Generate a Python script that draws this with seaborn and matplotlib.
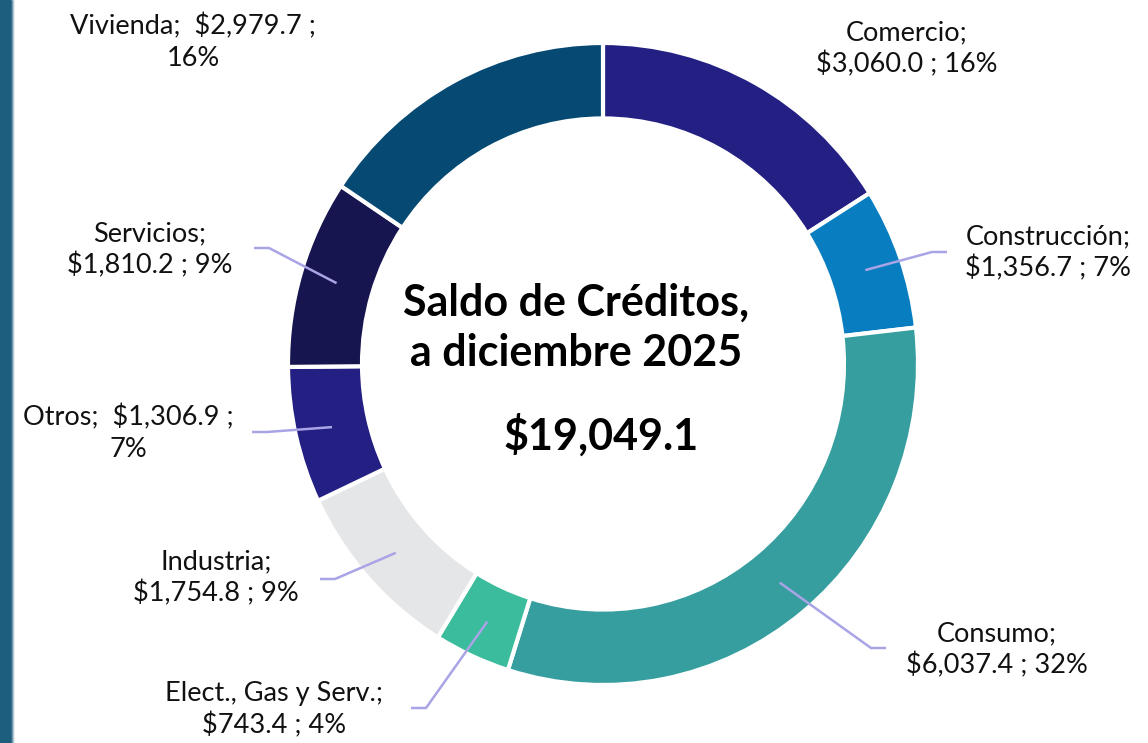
import matplotlib.pyplot as plt
import numpy as np
import seaborn as sns
from matplotlib.patches import Rectangle

# data, clockwise from 12 o'clock
SECTORS = ["Comercio", "Construcción", "Consumo", "Elect., Gas y Serv.",
           "Industria", "Otros", "Servicios", "Vivienda"]
SALDOS = [3060.0, 1356.7, 6037.4, 743.4, 1754.8, 1306.9, 1810.2, 2979.7]
PCTS = [16, 7, 32, 4, 9, 7, 9, 16]
COLORS = ["#231F83", "#087DC0", "#379E9F", "#3BBD9D",
          "#E5E6E8", "#231F83", "#171550", "#064A73"]
TITLE = "Saldo de Créditos,\na diciembre 2025"

# label layout in pixels (center of text block), elbow point (None = no leader)
LABEL_POS = {
    "Comercio": (907, 49, None),
    "Construcción": (1048, 253, (947, 252)),
    "Consumo": (997, 650, (886, 648)),
    "Elect., Gas y Serv.": (274, 710, (411, 708)),
    "Industria": (216, 578, (320, 579)),
    "Otros": (128, 433, (252, 432)),
    "Servicios": (150, 250, (254, 248)),
    "Vivienda": (193, 42, None),
}
LABEL_TEXT = {
    "Comercio": "Comercio;\n{v} ; {p}",
    "Construcción": "Construcción;\n{v} ; {p}",
    "Consumo": "Consumo;\n{v} ; {p}",
    "Elect., Gas y Serv.": "Elect., Gas y Serv.;\n{v} ; {p}",
    "Industria": "Industria;\n{v} ; {p}",
    "Otros": "Otros;  {v} ;\n{p}",
    "Servicios": "Servicios;\n{v} ; {p}",
    "Vivienda": "Vivienda;  {v} ;\n{p}",
}
ELBOW_LEN = 15

W, H = 1148, 743
CX, CY, RX, RY = 603, 364, 315, 321

sns.set_theme(style="white")
plt.rcParams["font.family"] = ["Lato", "DejaVu Sans"]

fig = plt.figure(figsize=(W / 100, H / 100), dpi=100)
fig.patch.set_facecolor("white")

# left dark stripe with a soft edge
fig.patches.append(Rectangle((0, 0), 10 / W, 1, transform=fig.transFigure,
                             color="#1D5E7E", zorder=0))
for i, a in enumerate([0.6, 0.35, 0.15, 0.05]):
    fig.patches.append(Rectangle(((10 + i) / W, 0), 1 / W, 1, transform=fig.transFigure,
                                 color="#1D5E7E", alpha=a, zorder=0))

ax = fig.add_axes([(CX - RX) / W, (H - CY - RY) / H, 2 * RX / W, 2 * RY / H])
wedges, _ = ax.pie(SALDOS, colors=COLORS, startangle=90, counterclock=False,
                   radius=1.0, wedgeprops=dict(width=0.235, edgecolor="white", linewidth=3))
ax.set_xlim(-1, 1)
ax.set_ylim(-1, 1)
ax.set_aspect("auto")
ax.axis("off")


def px_to_data(px, py):
    return (px - CX) / RX, (CY - py) / RY


total = sum(SALDOS)
line_color = "#A9A4E6"
for name, val, pct, w in zip(SECTORS, SALDOS, PCTS, wedges):
    lx, ly, elbow = LABEL_POS[name]
    txt = LABEL_TEXT[name].format(v=f"${val:,.1f}", p=f"{pct}%")
    tx, ty = px_to_data(lx, ly)
    ax.text(tx, ty, txt, ha="center", va="center", fontsize=19.5,
            linespacing=1.3, color="#111111", clip_on=False)
    if elbow is None:
        continue
    mid = np.deg2rad((w.theta1 + w.theta2) / 2)
    r = 1 - 0.235 / 2
    ax_, ay_ = r * np.cos(mid), r * np.sin(mid)
    ex, ey = elbow
    side = 1 if ex < CX else -1
    x0, y0 = px_to_data(ex, ey)
    x1, y1 = px_to_data(ex + side * ELBOW_LEN, ey)
    ax.plot([x0, x1, ax_], [y0, y1, ay_], color=line_color, lw=1.8,
            clip_on=False, solid_capstyle="butt")

tx, ty = px_to_data(576, 328)
ax.text(tx, ty, TITLE, ha="center", va="center", fontsize=31,
        fontweight="bold", linespacing=1.3, color="black")
tx, ty = px_to_data(601, 435)
ax.text(tx, ty, f"${total:,.1f}", ha="center", va="center", fontsize=31,
        fontweight="bold", color="black")

fig.savefig("out.png", dpi=100, facecolor="white")
